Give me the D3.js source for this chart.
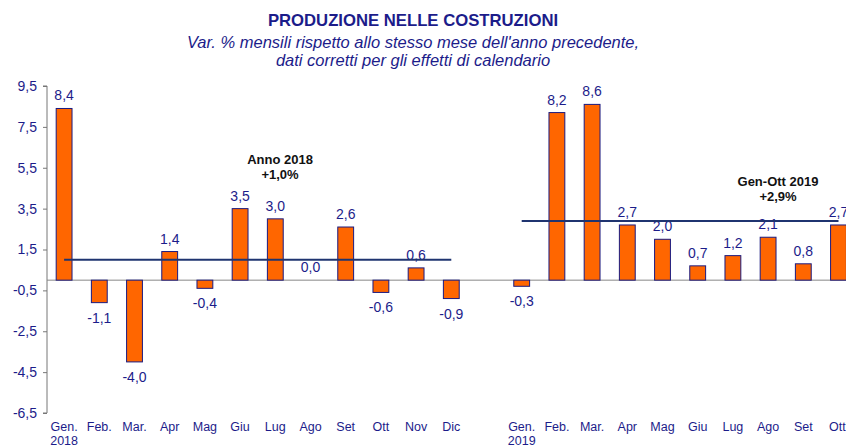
<!DOCTYPE html>
<html><head><meta charset="utf-8">
<script src="https://cdn.jsdelivr.net/npm/d3@7"></script>
<style>body{margin:0;background:#fff;}svg{display:block;font-family:"Liberation Sans",Arial,sans-serif;}</style>
</head><body><svg id="c" width="846" height="448"></svg>
<script>
const months2018 = ["Gen.","Feb.","Mar.","Apr","Mag","Giu","Lug","Ago","Set","Ott","Nov","Dic"];
const values2018 = [8.4,-1.1,-4.0,1.4,-0.4,3.5,3.0,0.0,2.6,-0.6,0.6,-0.9];
const months2019 = ["Gen.","Feb.","Mar.","Apr","Mag","Giu","Lug","Ago","Set","Ott'"];
const values2019 = [-0.3,8.2,8.6,2.7,2.0,0.7,1.2,2.1,0.8,2.7];
const yTicks = [9.5,7.5,5.5,3.5,1.5,-0.5,-2.5,-4.5,-6.5];
const avg2018 = 1.0, avg2019 = 2.9;
const title = "PRODUZIONE NELLE COSTRUZIONI";
const subtitle = ["Var. % mensili rispetto allo stesso mese dell'anno precedente,","dati corretti per gli effetti di calendario"];

const navy = "#1c1c8a";
const svg = d3.select("#c");
const keys = [];
const data = [];
months2018.forEach((m,i)=>{keys.push("a"+i); data.push({k:"a"+i,m,v:values2018[i],yr:i===0?"2018":null});});
keys.push("gap");
months2019.forEach((m,i)=>{keys.push("b"+i); data.push({k:"b"+i,m,v:values2019[i],yr:i===0?"2019":null});});

const x = d3.scaleBand().domain(keys).range([46.5, 46.5+23*35.2]).paddingInner(0.55).paddingOuter(0.275);
const y = d3.scaleLinear().domain([-6.5,9.5]).range([413,86]);
const fmt = v => d3.format(".1f")(v).replace(".",",").replace("−","-");

// title
svg.append("text").attr("x",413).attr("y",26).attr("text-anchor","middle").attr("fill",navy)
  .attr("font-weight","bold").attr("font-size",16.7).text(title);
subtitle.forEach((s,i)=>svg.append("text").attr("x",413).attr("y",48+i*18).attr("text-anchor","middle")
  .attr("fill",navy).attr("font-style","italic").attr("font-size",16.5).text(s));

// y axis
const ya = svg.append("g").attr("transform","translate(47,0)")
  .call(d3.axisLeft(y).tickValues(yTicks).tickSize(4).tickPadding(6).tickFormat(fmt));
ya.select(".domain").attr("stroke","#777").attr("d","M-4,86H0V413H-4");
ya.selectAll(".tick line").attr("stroke","#777");
ya.selectAll(".tick text").attr("fill",navy).attr("font-size",14).attr("font-family","Liberation Sans, Arial, sans-serif");

// zero line
svg.append("line").attr("x1",47).attr("x2",846).attr("y1",y(0)).attr("y2",y(0)).attr("stroke","#888").attr("stroke-width",1);

// bars
svg.selectAll("rect.bar").data(data).join("rect").attr("class","bar")
  .attr("x",d=>x(d.k)).attr("width",x.bandwidth())
  .attr("y",d=>y(Math.max(0,d.v))).attr("height",d=>Math.abs(y(d.v)-y(0)))
  .attr("fill","#ff6600").attr("stroke","#1a1a80").attr("stroke-width",1);

// value labels
svg.selectAll("text.val").data(data).join("text").attr("class","val")
  .attr("x",d=>x(d.k)+x.bandwidth()/2)
  .attr("y",d=>d.v>=0? y(d.v)-8 : y(d.v)+20)
  .attr("text-anchor","middle").attr("fill",navy).attr("font-size",14).text(d=>fmt(d.v));

// x labels
svg.selectAll("text.xl").data(data).join("text").attr("class","xl")
  .attr("x",d=>x(d.k)+x.bandwidth()/2).attr("y",430.5)
  .attr("text-anchor","middle").attr("fill",navy).attr("font-size",12.5).text(d=>d.m);
svg.selectAll("text.yr").data(data.filter(d=>d.yr)).join("text").attr("class","yr")
  .attr("x",d=>x(d.k)+x.bandwidth()/2).attr("y",445)
  .attr("text-anchor","middle").attr("fill",navy).attr("font-size",12.5).text(d=>d.yr);

// average lines
const c = k => x(k)+x.bandwidth()/2;
svg.append("line").attr("x1",c("a0")).attr("x2",c("a11")).attr("y1",y(avg2018)).attr("y2",y(avg2018)).attr("stroke","#1f3470").attr("stroke-width",2);
svg.append("line").attr("x1",c("b0")).attr("x2",c("b9")).attr("y1",y(avg2019)).attr("y2",y(avg2019)).attr("stroke","#1f3470").attr("stroke-width",2);

// annotations
function ann(cx, y0, lines){lines.forEach((s,i)=>svg.append("text").attr("x",cx).attr("y",y0+i*15).attr("text-anchor","middle")
  .attr("font-weight","bold").attr("font-size",13).attr("fill","#111").text(s));}
ann(280,164,["Anno 2018","+"+fmt(avg2018)+"%"]);
ann(778,186,["Gen-Ott 2019","+"+fmt(avg2019)+"%"]);
</script></body></html>
